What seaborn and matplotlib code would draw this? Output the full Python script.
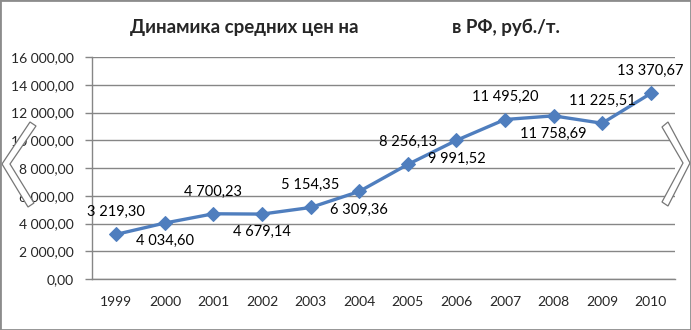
import matplotlib
matplotlib.use("Agg")
import matplotlib.pyplot as plt
import seaborn as sns
import pandas as pd
from matplotlib.patches import Polygon, Rectangle
from matplotlib.ticker import FuncFormatter, FixedLocator

years = ["1999", "2000", "2001", "2002", "2003", "2004",
         "2005", "2006", "2007", "2008", "2009", "2010"]
prices = [3219.30, 4034.60, 4700.23, 4679.14, 5154.35, 6309.36,
          8256.13, 9991.52, 11495.20, 11758.69, 11225.51, 13370.67]
label_above = [True, False, True, False, True, False,
               True, False, True, False, True, True]
title_left = "Динамика средних цен на"
title_right = "в РФ, руб./т."

sns.set_theme(style="white")
plt.rcParams["font.family"] = ["Lato", "DejaVu Sans"]

def fmt(v, pos=None):
    s = f"{v:,.2f}"
    return s.replace(",", " ").replace(".", ",")

df = pd.DataFrame({"pos": range(len(years)), "price": prices})

fig = plt.figure(figsize=(6.91, 3.30), dpi=100)
ax = fig.add_axes([92/691, 1-279/330, (675-92)/691, (279-57)/330])
color = "#4F7EBE"
sns.lineplot(data=df, x="pos", y="price", ax=ax, color=color, lw=2.4,
             marker="D", markersize=7, markeredgecolor=color)

ax.set_xlim(-0.5, len(years) - 0.5)
ax.set_ylim(0, 16000)
ax.set_yticks(range(0, 16001, 2000))
ax.yaxis.set_major_formatter(FuncFormatter(fmt))
ax.set_xticks(range(len(years)))
ax.set_xticklabels(years)
ax.xaxis.set_minor_locator(FixedLocator([i - 0.5 for i in range(len(years) + 1)]))
ax.tick_params(axis="x", which="major", length=0, pad=12, labelsize=10)
ax.tick_params(axis="x", which="minor", length=5, color="#868686", width=1)
ax.tick_params(axis="y", which="major", length=5, color="#868686", width=1,
               left=True, pad=8, labelsize=10)
ax.grid(axis="y", color="#868686", lw=1)
ax.set_axisbelow(True)
for s in ["top", "right"]:
    ax.spines[s].set_visible(False)
for s in ["left", "bottom"]:
    ax.spines[s].set_color("#868686")
    ax.spines[s].set_linewidth(1)
ax.set_xlabel("")
ax.set_ylabel("")

for i, (v, up) in enumerate(zip(prices, label_above)):
    ax.annotate(fmt(v), (i, v), xytext=(0, 16 if up else -13),
                textcoords="offset points", ha="center",
                va="center", fontsize=10.5, color="black")

fig.text(130/691, 1-27/330, title_left, fontsize=13.5, fontweight="bold",
         ha="left", va="center")
fig.text(452/691, 1-27/330, title_right, fontsize=13.5, fontweight="bold",
         ha="left", va="center")

def px(pts):
    return [(x/691, 1 - y/330) for x, y in pts]

left_chev = px([(30, 122), (36, 126), (10, 164), (34, 203), (28, 207), (2, 164)])
right_chev = px([(662, 127), (668, 122), (690, 163), (668, 206), (662, 202), (683, 163)])
for pts in (left_chev, right_chev):
    fig.patches.append(Polygon(pts, closed=True, transform=fig.transFigure,
                               facecolor="white", edgecolor="#777777", lw=0.9,
                               zorder=5))

fig.patches.append(Rectangle((0, 0), 1, 1, transform=fig.transFigure,
                             fill=False, edgecolor="#8c8c8c", lw=2, zorder=6))

fig.savefig("out.png", dpi=100)
